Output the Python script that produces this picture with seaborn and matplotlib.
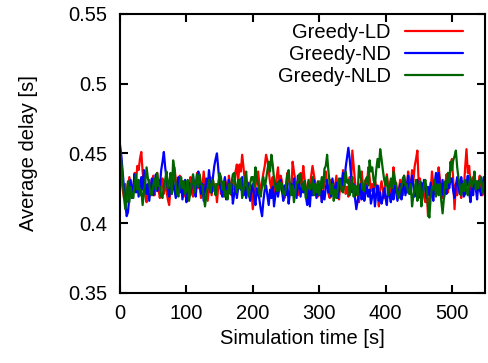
import numpy as np
import pandas as pd
import matplotlib
matplotlib.use("Agg")
import matplotlib.pyplot as plt
import matplotlib.ticker as mticker
import seaborn as sns

greedy_ld = [
    .440, .432, .424, .418, .428, .415, .422, .433, .426, .419,
    .424, .436, .429, .441, .438, .446, .451, .437, .428, .420,
    .415, .425, .431, .422, .428, .434, .420, .427, .436, .424,
    .418, .427, .432, .421, .429, .423, .417, .413, .425, .433,
    .427, .440, .431, .421, .428, .434, .423, .430, .419, .426,
    .424, .416, .422, .433, .427, .419, .430, .422, .436, .425,
    .429, .418, .425, .437, .428, .422, .416, .425, .433, .420,
    .431, .423, .428, .415, .426, .434, .421, .428, .419, .432,
    .428, .421, .434, .426, .420, .431, .424, .437, .442, .430,
    .442, .437, .449, .440, .430, .425, .421, .429, .418, .424,
    .410, .418, .426, .433, .437, .428, .422, .430, .436, .441,
    .449, .445, .438, .429, .425, .433, .419, .426, .433, .440,
    .426, .434, .430, .420, .418, .427, .436, .431, .428, .422,
    .444, .437, .431, .425, .420, .428, .436, .427, .441, .432,
    .426, .422, .420, .427, .434, .441, .435, .429, .424, .419,
    .430, .426, .416, .423, .429, .437, .428, .421, .418, .431,
    .425, .420, .427, .434, .422, .417, .429, .424, .438, .430,
    .421, .426, .419, .433, .427, .452, .441, .430, .420, .426,
    .415, .423, .437, .428, .421, .431, .426, .440, .433, .423,
    .428, .422, .431, .426, .420, .412, .425, .430, .424, .418,
    .429, .435, .427, .421, .430, .424, .440, .432, .426, .419,
    .423, .431, .427, .420, .434, .428, .422, .437, .430, .425,
    .438, .430, .441, .446, .452, .428, .432, .420, .428, .420,
    .415, .424, .405, .418, .423, .437, .428, .421, .431, .426,
    .440, .432, .425, .418, .418, .428, .435, .422, .430, .441,
    .446, .431, .410, .428, .420, .431, .425, .418, .430, .424,
    .440, .453, .436, .441, .428, .420, .433, .425, .430, .422,
    .429, .434, .426, .420, .431, .427,
]
greedy_nd = [
    .456, .448, .436, .425, .414, .405, .408, .420, .431, .418,
    .427, .435, .422, .430, .419, .426, .433, .424, .438, .429,
    .421, .428, .416, .425, .432, .420, .427, .435, .423, .431,
    .426, .438, .444, .451, .440, .432, .424, .419, .427, .421,
    .430, .424, .418, .426, .433, .422, .429, .417, .424, .431,
    .415, .423, .429, .420, .427, .434, .426, .419, .431, .437,
    .427, .421, .428, .416, .424, .432, .425, .438, .429, .422,
    .433, .441, .446, .450, .439, .428, .424, .419, .426, .433,
    .417, .425, .431, .422, .428, .414, .421, .427, .418, .425,
    .431, .424, .433, .420, .426, .418, .429, .423, .416, .424,
    .428, .419, .413, .425, .421, .417, .410, .405, .416, .424,
    .427, .420, .413, .424, .418, .426, .412, .420, .428, .419,
    .425, .431, .423, .416, .427, .420, .429, .414, .422, .428,
    .421, .432, .425, .418, .434, .426, .419, .428, .422, .430,
    .419, .413, .424, .412, .426, .420, .431, .425, .418, .427,
    .420, .428, .415, .423, .417, .425, .431, .422, .427, .419,
    .432, .426, .420, .429, .418, .424, .432, .427, .436, .429,
    .440, .447, .454, .446, .435, .422, .428, .418, .410, .416,
    .422, .428, .417, .424, .416, .421, .427, .419, .424, .414,
    .419, .425, .412, .421, .427, .416, .422, .414, .418, .425,
    .418, .413, .426, .420, .415, .424, .417, .430, .422, .416,
    .422, .428, .417, .424, .428, .420, .426, .434, .421, .427,
    .434, .426, .419, .425, .431, .418, .424, .429, .422, .431,
    .424, .418, .426, .420, .429, .422, .416, .428, .436, .427,
    .436, .427, .420, .431, .418, .425, .421, .429, .425, .432,
    .432, .423, .418, .427, .433, .426, .421, .433, .425, .419,
    .421, .428, .434, .422, .415, .426, .420, .431, .425, .417,
    .430, .424, .420, .428, .433, .426,
]
greedy_nld = [
    .452, .444, .432, .418, .410, .421, .430, .415, .426, .419,
    .418, .428, .435, .424, .431, .420, .424, .413, .422, .430,
    .440, .432, .428, .421, .420, .427, .432, .424, .436, .427,
    .426, .419, .418, .427, .431, .437, .425, .429, .436, .421,
    .445, .438, .427, .421, .419, .428, .433, .425, .430, .421,
    .424, .431, .416, .423, .430, .435, .422, .428, .435, .426,
    .435, .428, .427, .419, .412, .420, .425, .431, .422, .428,
    .431, .425, .420, .428, .428, .436, .433, .424, .430, .419,
    .423, .417, .428, .421, .429, .435, .436, .427, .422, .431,
    .425, .432, .418, .424, .430, .437, .424, .419, .428, .433,
    .433, .426, .440, .432, .428, .421, .419, .427, .433, .425,
    .431, .438, .444, .437, .449, .442, .432, .426, .423, .430,
    .423, .429, .428, .421, .420, .426, .434, .438, .427, .420,
    .427, .415, .422, .429, .429, .435, .435, .426, .424, .430,
    .418, .425, .431, .424, .426, .433, .420, .428, .422, .430,
    .420, .426, .433, .425, .439, .441, .449, .437, .428, .421,
    .428, .416, .424, .418, .424, .432, .430, .423, .422, .429,
    .437, .429, .431, .420, .426, .433, .419, .427, .426, .420,
    .441, .434, .430, .424, .423, .431, .433, .427, .445, .437,
    .440, .431, .427, .438, .446, .440, .453, .446, .438, .431,
    .427, .433, .420, .426, .432, .425, .437, .428, .429, .421,
    .418, .425, .426, .432, .434, .427, .428, .422, .421, .428,
    .412, .420, .425, .431, .416, .425, .430, .412, .420, .427,
    .431, .424, .412, .404, .418, .426, .424, .431, .419, .428,
    .420, .428, .416, .407, .418, .430, .425, .436, .429, .444,
    .438, .445, .448, .452, .440, .432, .426, .420, .428, .423,
    .431, .424, .420, .428, .433, .426, .429, .437, .424, .430,
    .425, .431, .433, .422, .428, .431,
]
names = ["Greedy-LD", "Greedy-ND", "Greedy-NLD"]
colors = ["#ff0000", "#0000ff", "#006400"]

frames = []
for name, vals in zip(names, [greedy_ld, greedy_nd, greedy_nld]):
    frames.append(pd.DataFrame({"t": np.arange(len(vals)) * 2, "delay": vals, "scheme": name}))
df = pd.concat(frames, ignore_index=True)

sns.set_style("ticks")
plt.rcParams["font.family"] = ["Liberation Sans", "DejaVu Sans"]
plt.rcParams["font.size"] = 14.5
plt.rcParams["text.color"] = "black"
plt.rcParams["axes.labelcolor"] = "black"

fig = plt.figure(figsize=(4.88, 3.63), dpi=100)
ax = fig.add_axes([0.246, 0.193, 0.748, 0.769])

sns.lineplot(data=df, x="t", y="delay", hue="scheme", palette=colors,
             linewidth=1.6, ax=ax)

ax.set_xlim(0, 550)
ax.set_ylim(0.35, 0.55)
ax.set_xticks([0, 100, 200, 300, 400, 500])
ax.set_yticks([0.35, 0.4, 0.45, 0.5, 0.55])
ax.yaxis.set_major_formatter(mticker.FormatStrFormatter("%g"))
ax.set_xlabel("Simulation time [s]")
ax.set_ylabel("Average delay [s]", labelpad=22)
ax.tick_params(direction="in", length=6, width=1.5, top=True, right=True,
               labelsize=14.5, colors="black")
ax.tick_params(axis="y", pad=9)
ax.tick_params(axis="x", pad=8)
for s in ax.spines.values():
    s.set_linewidth(1.5)
    s.set_color("black")

handles, labels = ax.get_legend_handles_labels()
ax.legend(handles, labels, loc="upper right", bbox_to_anchor=(0.94, 0.968),
          frameon=False, markerfirst=False, handlelength=2.9,
          handletextpad=0.7, labelspacing=0.15, borderpad=0, borderaxespad=0,
          fontsize=14.5)

plt.savefig("out.png", dpi=100)
